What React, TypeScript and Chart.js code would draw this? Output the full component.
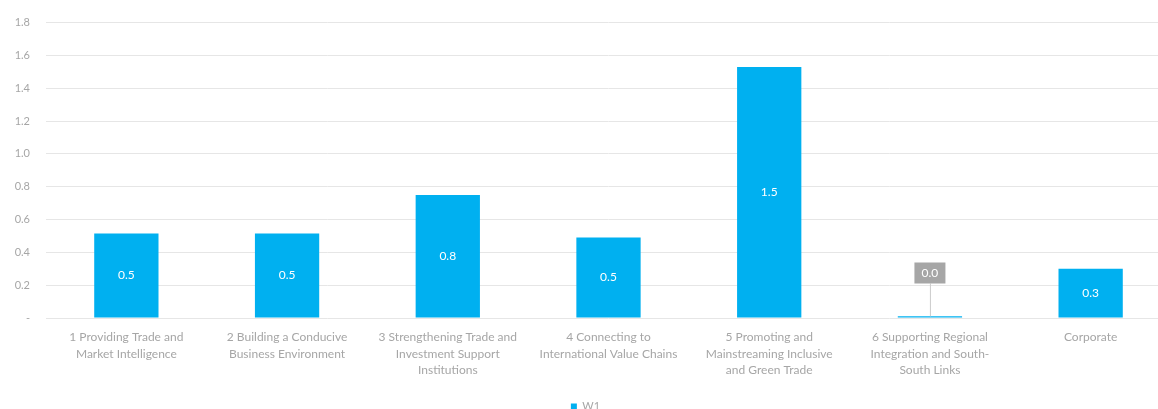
import React, { useEffect, useRef } from "react";
import { Chart, registerables } from "chart.js";

Chart.register(...registerables);

const categories: string[][] = [
  ["1 Providing Trade and", "Market Intelligence"],
  ["2 Building a Conducive", "Business Environment"],
  ["3 Strengthening Trade and", "Investment Support", "Institutions"],
  ["4 Connecting to", "International Value Chains"],
  ["5 Promoting and", "Mainstreaming Inclusive", "and Green Trade"],
  ["6 Supporting Regional", "Integration and South-", "South Links"],
  ["Corporate"],
];
const seriesName = "W1";
const w1Values: number[] = [0.515, 0.515, 0.75, 0.49, 1.53, 0.01, 0.3];
const yTicks: number[] = [0, 0.2, 0.4, 0.6, 0.8, 1.0, 1.2, 1.4, 1.6, 1.8];

const FONT = "Lato, 'Open Sans', sans-serif";
const BAR = "#00B0F0";
const GREY_TEXT = "#a6a6a6";

const valueLabels = {
  id: "valueLabels",
  afterDatasetsDraw(chart: any) {
    const ctx = chart.ctx;
    const meta = chart.getDatasetMeta(0);
    const ds = chart.data.datasets[0];
    ctx.save();
    ctx.font = `12px ${FONT}`;
    ctx.textAlign = "center";
    ctx.textBaseline = "middle";
    meta.data.forEach((bar: any, i: number) => {
      const v = ds.data[i] as number;
      const txt = v.toFixed(1);
      const base = bar.base;
      const top = bar.y;
      if (base - top < 20) {
        const boxW = 31;
        const boxH = 21;
        const boxBottom = base - 34;
        ctx.strokeStyle = "#cccccc";
        ctx.lineWidth = 1;
        ctx.beginPath();
        ctx.moveTo(bar.x + 0.5, boxBottom);
        ctx.lineTo(bar.x + 0.5, top);
        ctx.stroke();
        ctx.fillStyle = "#a6a6a6";
        ctx.fillRect(bar.x - boxW / 2, boxBottom - boxH, boxW, boxH);
        ctx.fillStyle = "#ffffff";
        ctx.fillText(txt, bar.x, boxBottom - boxH / 2);
      } else {
        ctx.fillStyle = "#ffffff";
        ctx.fillText(txt, bar.x, (base + top) / 2);
      }
    });
    ctx.restore();
  },
};

export default function App() {
  const ref = useRef<HTMLCanvasElement | null>(null);
  useEffect(() => {
    if (!ref.current) return;
    const chart = new Chart(ref.current, {
      type: "bar",
      data: {
        labels: categories,
        datasets: [
          {
            label: seriesName,
            data: w1Values,
            backgroundColor: BAR,
            borderWidth: 0,
            barPercentage: 0.4,
            categoryPercentage: 1,
          },
        ],
      },
      options: {
        animation: false,
        responsive: false,
        maintainAspectRatio: false,
        layout: { padding: { top: 15, right: 0, bottom: 0, left: 0 } },
        plugins: {
          tooltip: { enabled: false },
          legend: {
            position: "bottom",
            labels: {
              boxWidth: 6,
              boxHeight: 6,
              padding: 1,
              color: GREY_TEXT,
              font: { family: FONT, size: 11 },
            },
          },
        },
        scales: {
          x: {
            grid: { display: false },
            border: { display: false },
            ticks: {
              color: GREY_TEXT,
              font: { family: FONT, size: 12, lineHeight: 1.38 },
              maxRotation: 0,
              autoSkip: false,
              padding: 3,
            },
            afterFit(scale: any) {
              scale.height = 82;
            },
          },
          y: {
            min: 0,
            max: 1.8,
            afterBuildTicks(scale: any) {
              scale.ticks = yTicks.map((v) => ({ value: v }));
            },
            grid: { color: "#e6e6e6", drawTicks: false },
            border: { display: false },
            ticks: {
              color: GREY_TEXT,
              font: { family: FONT, size: 11 },
              padding: 16,
              callback: (v: any) => (Number(v) === 0 ? "-" : Number(v).toFixed(1)),
            },
            afterFit(scale: any) {
              scale.width = 46;
            },
          },
        },
      },
      plugins: [valueLabels],
    });
    return () => chart.destroy();
  }, []);
  return (
    <div
      style={{
        position: "fixed",
        left: 0,
        top: 0,
        width: 1158,
        height: 409,
        overflow: "hidden",
        background: "#fff",
      }}
    >
      <canvas ref={ref} width={1171} height={422} style={{ display: "block" }} />
    </div>
  );
}
